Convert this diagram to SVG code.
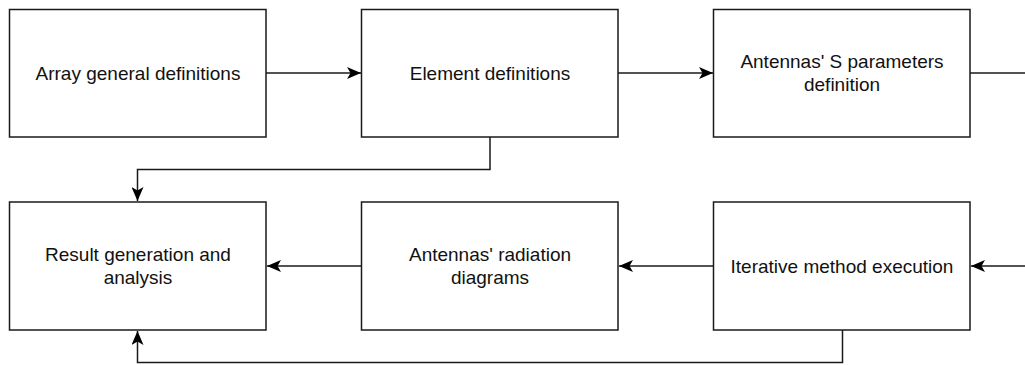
<svg xmlns="http://www.w3.org/2000/svg" width="1025" height="365" viewBox="0 0 1025 365">
<style>
.box{fill:#fff;stroke:#1a1a1a;stroke-width:1.5}
.lbl{font-family:"Liberation Sans",Arial,sans-serif;font-size:19px;fill:#111;text-anchor:middle}
.edge{fill:none;stroke:#1a1a1a;stroke-width:1.5}
</style>
<defs>
<marker id="arr" viewBox="0 0 14 12" refX="14" refY="6" markerWidth="14" markerHeight="12" markerUnits="userSpaceOnUse" orient="auto">
<path d="M0,0 L14,6 L0,12 L3.5,6 Z" fill="#000"/>
</marker>
</defs>
<rect width="1025" height="365" fill="#fff"/>
<g id="connectors">
<path class="edge" d="M266,73 H361" marker-end="url(#arr)"/>
<path class="edge" d="M618,73 H713" marker-end="url(#arr)"/>
<path class="edge" d="M970,73 H1025"/>
<path class="edge" d="M1025,266 H971" marker-end="url(#arr)"/>
<path class="edge" d="M714,266 H619" marker-end="url(#arr)"/>
<path class="edge" d="M362,266 H267" marker-end="url(#arr)"/>
<path class="edge" d="M490,137 V169.5 H137.5 V201" marker-end="url(#arr)"/>
<path class="edge" d="M842.5,330 V362.5 H137.5 V331" marker-end="url(#arr)"/>
</g>
<g id="n1"><rect class="box" x="9.5" y="9.5" width="256.5" height="127.5"/><text class="lbl" x="138" y="80">Array general definitions</text></g>
<g id="n2"><rect class="box" x="361.5" y="9.5" width="256.5" height="127.5"/><text class="lbl" x="490" y="80">Element definitions</text></g>
<g id="n3"><rect class="box" x="713.5" y="9.5" width="256.5" height="127.5"/><text class="lbl" x="842" y="68">Antennas' S parameters</text><text class="lbl" x="842" y="91">definition</text></g>
<g id="n4"><rect class="box" x="9.5" y="202" width="256.5" height="128"/><text class="lbl" x="138" y="261">Result generation and</text><text class="lbl" x="138" y="284">analysis</text></g>
<g id="n5"><rect class="box" x="361.5" y="202" width="256.5" height="128"/><text class="lbl" x="490" y="261">Antennas' radiation</text><text class="lbl" x="490" y="284">diagrams</text></g>
<g id="n6"><rect class="box" x="713.5" y="202" width="256.5" height="128"/><text class="lbl" x="842" y="273">Iterative method execution</text></g>
</svg>
